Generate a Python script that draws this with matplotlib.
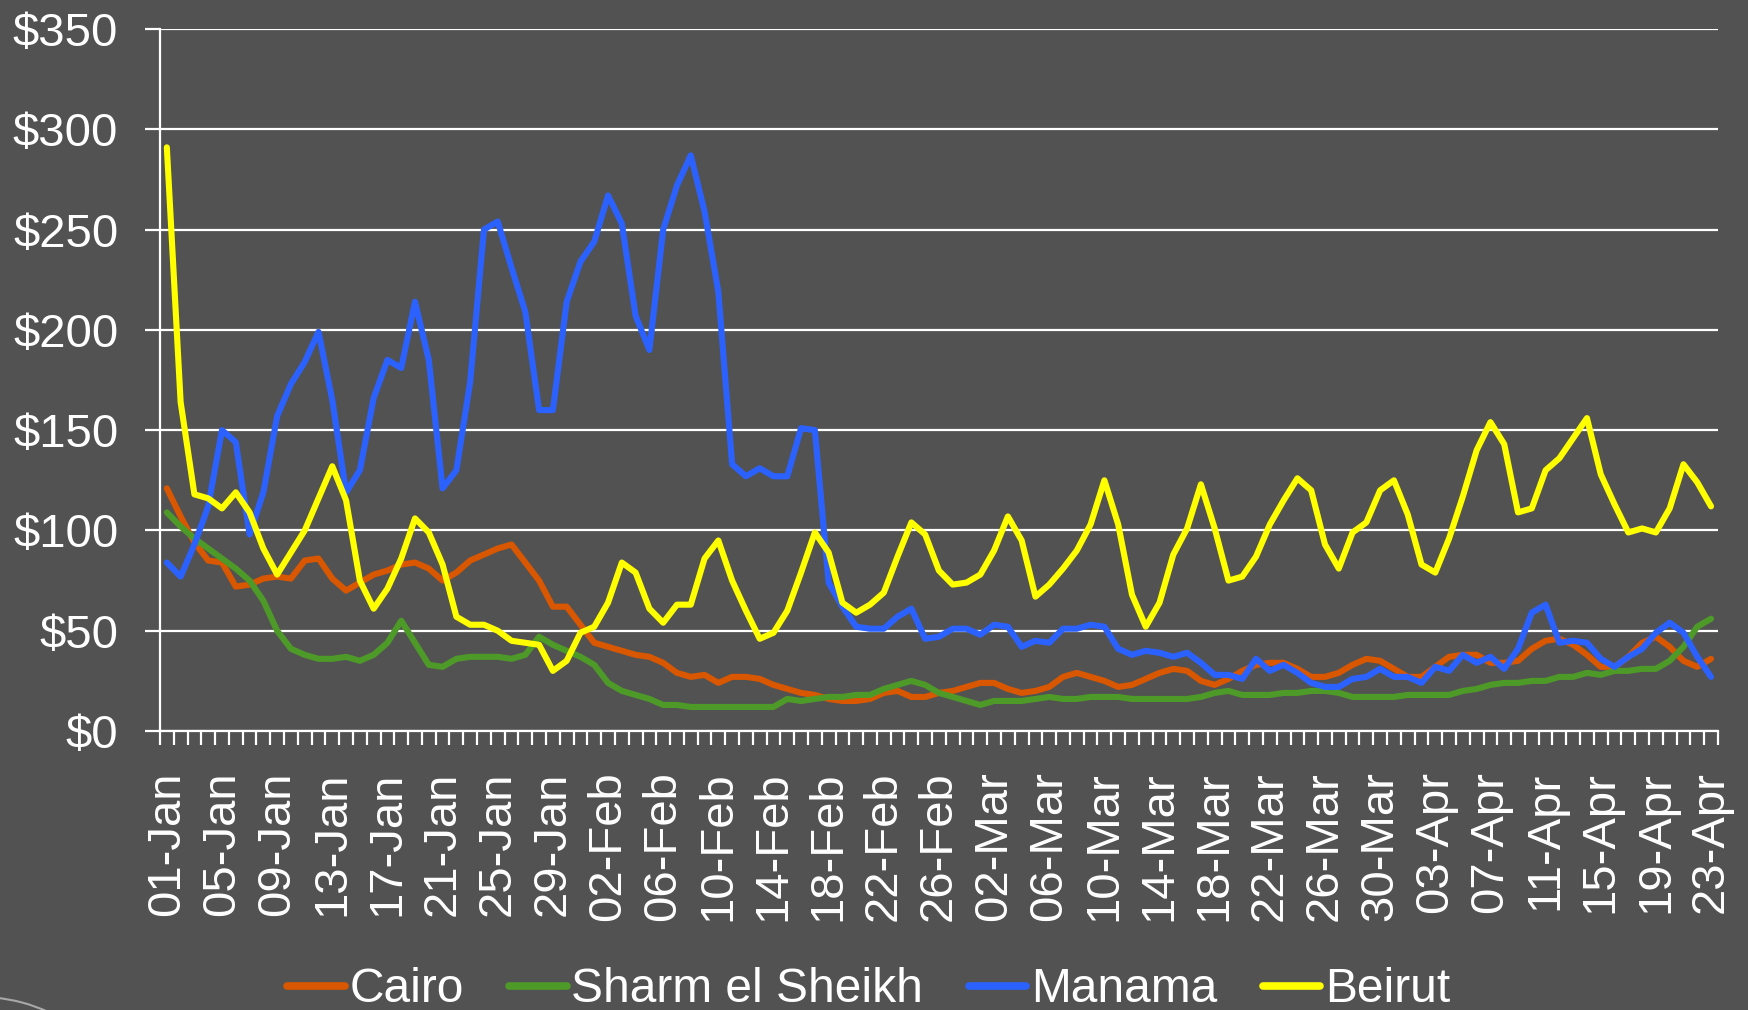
import pandas as pd
import matplotlib
matplotlib.use('Agg')
import matplotlib.pyplot as plt
from matplotlib.patches import Arc
import numpy as np


# daily categories 01-Jan .. 23-Apr
days = pd.date_range("2023-01-01", periods=113, freq="D").strftime("%d-%b").tolist()

cairo = [121, 107, 94, 85, 84, 72, 73, 76, 77, 76, 85, 86, 76, 70, 74, 78, 80, 83, 84, 81,
         75, 79, 85, 88, 91, 93, 84, 75, 62, 62, 53, 44, 42, 40, 38, 37, 34, 29, 27, 28,
         24, 27, 27, 26, 23, 21, 19, 18, 16, 15, 15, 16, 19, 20, 17, 17, 19, 20, 22, 24,
         24, 21, 19, 20, 22, 27, 29, 27, 25, 22, 23, 26, 29, 31, 30, 25, 23, 26, 30, 33,
         34, 34, 31, 27, 27, 29, 33, 36, 35, 31, 27, 27, 32, 37, 38, 38, 34, 34, 35, 41,
         45, 46, 43, 38, 32, 32, 37, 44, 47, 42, 35, 32, 36]

sharm = [109, 102, 96, 91, 86, 81, 75, 65, 50, 41, 38, 36, 36, 37, 35, 38, 44, 55, 44, 33,
         32, 36, 37, 37, 37, 36, 38, 47, 43, 40, 37, 33, 24, 20, 18, 16, 13, 13, 12, 12,
         12, 12, 12, 12, 12, 16, 15, 16, 17, 17, 18, 18, 21, 23, 25, 23, 19, 17, 15, 13,
         15, 15, 15, 16, 17, 16, 16, 17, 17, 17, 16, 16, 16, 16, 16, 17, 19, 20, 18, 18,
         18, 19, 19, 20, 20, 19, 17, 17, 17, 17, 18, 18, 18, 18, 20, 21, 23, 24, 24, 25,
         25, 27, 27, 29, 28, 30, 30, 31, 31, 35, 42, 52, 56]

manama = [84, 77, 93, 112, 150, 144, 98, 119, 157, 173, 184, 199, 165, 119, 130, 166, 185, 181, 214, 185,
          121, 130, 174, 250, 254, 231, 209, 160, 160, 214, 234, 244, 267, 253, 207, 190, 250, 272, 287, 259,
          219, 133, 127, 131, 127, 127, 151, 150, 74, 62, 52, 51, 51, 57, 61, 46, 47, 51, 51, 48,
          53, 52, 42, 45, 44, 51, 51, 53, 52, 41, 38, 40, 39, 37, 39, 34, 28, 28, 26, 36,
          30, 33, 29, 24, 22, 22, 26, 27, 31, 27, 27, 24, 32, 30, 38, 34, 37, 31, 41, 59,
          63, 44, 45, 44, 36, 32, 37, 41, 49, 54, 49, 37, 27]

beirut = [291, 164, 118, 116, 111, 119, 109, 91, 78, 89, 100, 116, 132, 115, 75, 61, 71, 86, 106, 99,
          83, 57, 53, 53, 50, 45, 44, 43, 30, 35, 49, 52, 64, 84, 79, 61, 54, 63, 63, 86,
          95, 75, 60, 46, 49, 60, 79, 99, 89, 64, 59, 63, 69, 87, 104, 98, 80, 73, 74, 78,
          90, 107, 95, 67, 73, 81, 90, 103, 125, 103, 68, 52, 64, 88, 101, 123, 101, 75, 77, 87,
          103, 115, 126, 120, 93, 81, 99, 104, 120, 125, 108, 83, 79, 96, 117, 140, 154, 143, 109, 111,
          130, 136, 146, 156, 128, 113, 99, 101, 99, 111, 133, 124, 112]

series_names = ["Cairo", "Sharm el Sheikh", "Manama", "Beirut"]
series_colors = ["#D95700", "#4E9A28", "#2B62FF", "#FFFF00"]

ytick_vals = [0, 50, 100, 150, 200, 250, 300, 350]
ytick_labels = ["$0", "$50", "$100", "$150", "$200", "$250", "$300", "$350"]

bg = "#525252"
plt.rcParams['font.family'] = ['Liberation Sans', 'DejaVu Sans']

fig = plt.figure(figsize=(17.48, 10.10), dpi=100, facecolor=bg)
ax = fig.add_axes([0.0915, 0.2762, 0.8913, 0.6951])
ax.set_facecolor(bg)

x = np.arange(len(days))
for vals, name, col in zip([cairo, sharm, manama, beirut], series_names, series_colors):
    ax.plot(x, vals, color=col, lw=4.4, label=name, solid_joinstyle='round',
            solid_capstyle='round', zorder=3)

ax.set_xlim(-0.5, len(days) - 0.5)
ax.set_ylim(0, 350)

# y axis
ax.set_yticks(ytick_vals)
ax.set_yticklabels(ytick_labels)
ax.yaxis.grid(True, color='white', lw=1.6, zorder=1)
ax.tick_params(axis='y', colors='white', labelsize=34, length=11, width=1.6, pad=19,
               labelcolor='white')

# x axis: labels every 4 days, tick marks between categories
ax.set_xticks(x[::4])
ax.set_xticklabels(days[::4], rotation=90)
ax.set_xticks(np.arange(-0.5, len(days), 1.0), minor=True)
ax.tick_params(axis='x', which='major', length=0, labelsize=34, pad=29, labelcolor='white')
ax.tick_params(axis='x', which='minor', length=10, width=1.6, colors='white')

for side in ['top', 'right']:
    ax.spines[side].set_visible(False)
for side in ['left', 'bottom']:
    ax.spines[side].set_color('white')
    ax.spines[side].set_linewidth(1.6)

leg = fig.legend(loc='center', bbox_to_anchor=(0.497, 0.02), ncol=4, frameon=False,
                 fontsize=34.5, handlelength=1.2, handletextpad=0.1, columnspacing=0.95,
                 labelcolor='white')
for h in leg.legend_handles:
    h.set_linewidth(5.5)

# faint decorative arc in the bottom-left corner of the slide (pixel coords)
fig.add_artist(Arc((-20, -150), 326, 326, theta1=55, theta2=95, transform=None,
                   color='#A8A8A8', lw=1.5))

fig.savefig("out.png", dpi=100, facecolor=bg)
